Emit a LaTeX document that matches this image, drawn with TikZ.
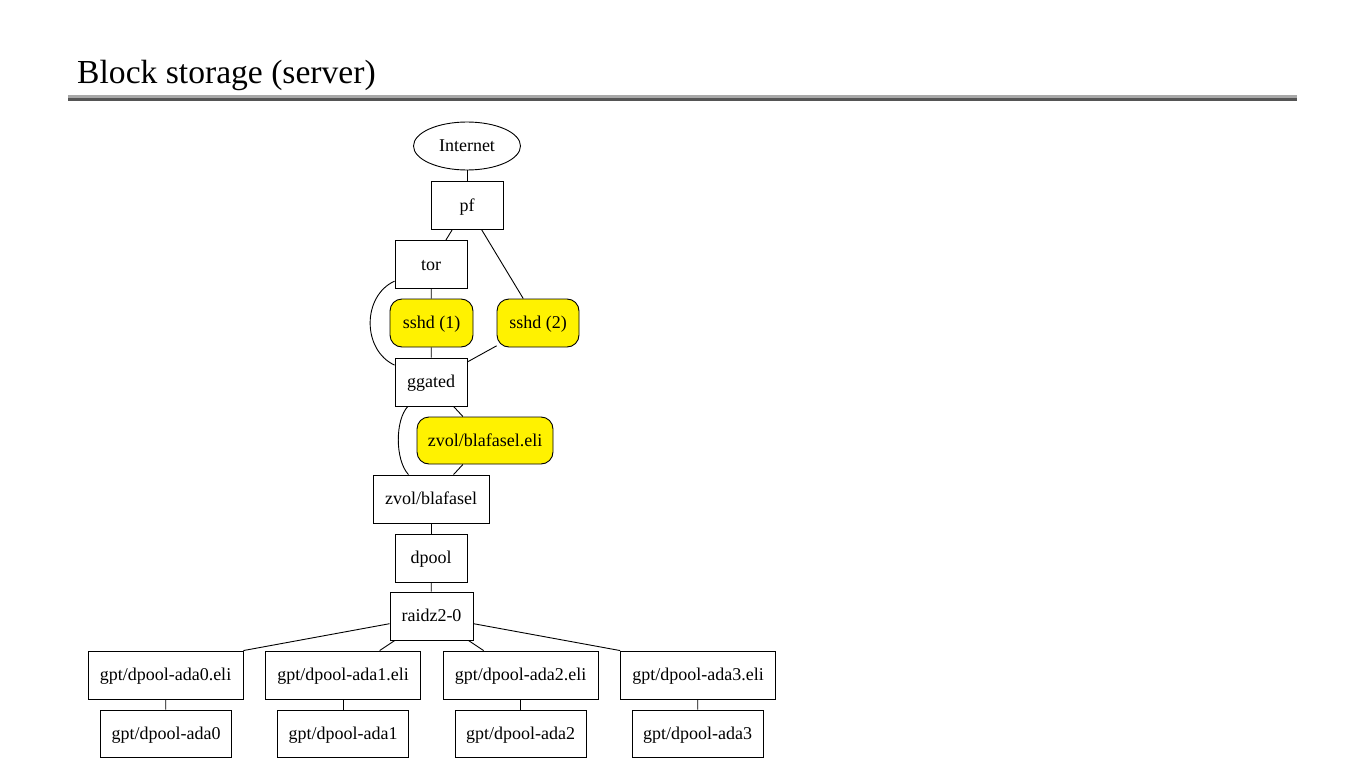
\documentclass[tikz,border=0pt]{standalone}
\usepackage{fontspec}
\setmainfont{Liberation Serif}
\usetikzlibrary{shapes.geometric}
\begin{document}
\begin{tikzpicture}[x=1pt,y=-1pt,
  lbl/.style={inner sep=0pt,text height=11pt,text depth=0pt,font=\fontsize{18}{20}\selectfont},
  box/.style={draw,line width=0.9pt,lbl,minimum height=48pt},
  soft/.style={box,fill=yellow,rounded corners=12pt},
  link/.style={line width=0.9pt}]
\useasboundingbox[fill=white] (0,0) rectangle (1366,768);
% title and rule
\node[anchor=base west,inner sep=0pt,font=\fontsize{33.6}{38}\selectfont] (title) at (77,83.5) {Block storage (server)};
\fill[fill={rgb,255:red,168;green,168;blue,168}] (68,95) rectangle (1297,98);
\fill[fill={rgb,255:red,85;green,85;blue,85}] (68,98) rectangle (1297,101);
% nodes
\node[draw,line width=0.9pt,ellipse,lbl,minimum width=107pt,minimum height=48pt] (inet) at (467,146) {Internet};
\node[box,minimum width=72pt] (pf) at (467,205.5) {pf};
\node[box,minimum width=72pt] (tor) at (431,264.5) {tor};
\node[soft,minimum width=83pt] (ssh1) at (431.5,323) {sshd (1)};
\node[soft,minimum width=82pt] (ssh2) at (538,323) {sshd (2)};
\node[box,minimum width=72pt] (gg) at (431,382) {ggated};
\node[soft,minimum width=136pt,minimum height=47pt] (zeli) at (485,440.5) {zvol/blafasel.eli};
\node[box,minimum width=116pt] (zvol) at (431,499) {zvol/blafasel};
\node[box,minimum width=72pt] (dpool) at (431,558) {dpool};
\node[box,minimum width=83pt] (raid) at (431.5,616) {raidz2-0};
\node[box,minimum width=155pt] (e0) at (165.5,675) {gpt/dpool-ada0.eli};
\node[box,minimum width=155pt] (e1) at (343,675) {gpt/dpool-ada1.eli};
\node[box,minimum width=155pt] (e2) at (520.5,675) {gpt/dpool-ada2.eli};
\node[box,minimum width=155pt] (e3) at (698,675) {gpt/dpool-ada3.eli};
\node[box,minimum width=131pt,minimum height=47pt] (d0) at (166,733.5) {gpt/dpool-ada0};
\node[box,minimum width=131pt,minimum height=47pt] (d1) at (343,733.5) {gpt/dpool-ada1};
\node[box,minimum width=131pt,minimum height=47pt] (d2) at (520.5,733.5) {gpt/dpool-ada2};
\node[box,minimum width=131pt,minimum height=47pt] (d3) at (697.5,733.5) {gpt/dpool-ada3};
% edges
\draw[link] (inet) -- (pf);
\draw[link] (pf) -- (tor);
\draw[link] (pf) -- (ssh2);
\draw[link] (tor) -- (ssh1);
\draw[link] (ssh1) -- (gg);
\draw[link] (ssh2) -- (gg);
\draw[link] (tor) .. controls (362,296) and (362,350) .. (gg);
\draw[link] (gg) -- (zeli);
\draw[link] (zeli) -- (zvol);
\draw[link] (gg) .. controls (395,420) and (395,460) .. (zvol);
\draw[link] (zvol) -- (dpool);
\draw[link] (dpool) -- (raid);
\draw[link] (raid) -- (e0.north east);
\draw[link] (raid) -- (e1);
\draw[link] (raid) -- (e2);
\draw[link] (raid) -- (e3.north west);
\draw[link] (e0) -- (d0);
\draw[link] (e1) -- (d1);
\draw[link] (e2) -- (d2);
\draw[link] (e3) -- (d3);
\end{tikzpicture}
\end{document}
